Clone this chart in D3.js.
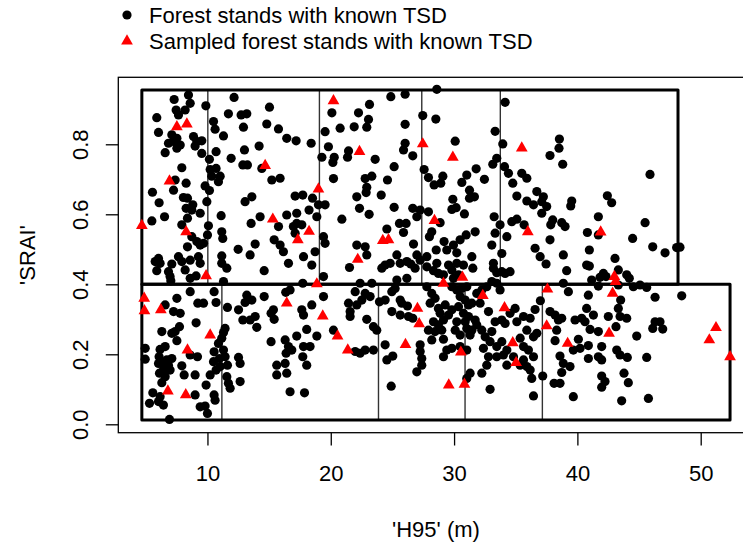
<!DOCTYPE html>
<html><head><meta charset="utf-8">
<script src="https://cdn.jsdelivr.net/npm/d3@7"></script>
<style>body{margin:0;background:#fff}svg{display:block}text{font-family:"Liberation Sans",Arial,sans-serif;font-size:22px;fill:#000}</style>
</head><body><svg id="c" width="743" height="545"></svg>
<script>
// H95 (m), SRAI
const forestStands = [
[8.46,0.941],[8.6,0.917],[7.3,0.928],[9.87,0.910],[12.16,0.934],[7.46,0.898],[8.19,0.898],[7.65,0.884],[5.89,0.876],[6.03,0.834],[10.49,0.865],[10.62,0.843],[11.3,0.824],[11.7,0.887],[12.73,0.884],[13.19,0.887],[12.92,0.849],[15.03,0.906],[14.81,0.858],[15.76,0.844],[16.43,0.817],[17.19,0.810],[18.41,0.803],[19.54,0.836],[19.81,0.793],[7.11,0.827],[7.52,0.817],[7.25,0.808],[7.79,0.798],[7.52,0.789],[6.84,0.803],[8.87,0.822],[9.14,0.808],[9.54,0.810],[9.0,0.795],[6.57,0.776],[9.54,0.774],[10.16,0.757],[10.7,0.779],[11.92,0.760],[13.0,0.784],[14.19,0.795],[7.92,0.733],[10.22,0.728],[10.7,0.731],[11.03,0.709],[10.89,0.693],[10.35,0.709],[12.87,0.741],[13.24,0.741],[14.41,0.731],[15.22,0.698],[15.89,0.703],[7.38,0.698],[8.27,0.689],[7.25,0.669],[5.54,0.663],[6.08,0.633],[8.05,0.648],[8.38,0.646],[8.81,0.627],[8.27,0.617],[8.73,0.612],[9.41,0.603],[9.95,0.636],[9.81,0.681],[10.16,0.668],[13.05,0.636],[13.6,0.650],[11.11,0.596],[5.49,0.581],[6.52,0.593],[8.38,0.589],[7.92,0.570],[10.08,0.567],[10.0,0.541],[11.16,0.550],[11.24,0.531],[8.73,0.536],[9.14,0.522],[9.41,0.512],[9.68,0.517],[8.38,0.507],[12.49,0.500],[13.46,0.484],[13.87,0.515],[14.27,0.593],[13.54,0.574],[16.43,0.598],[17.24,0.603],[17.11,0.652],[17.73,0.655],[18.52,0.646],[19.0,0.627],[19.54,0.627],[18.24,0.612],[18.87,0.593],[17.24,0.574],[16.97,0.565],[17.65,0.570],[17.11,0.546],[15.76,0.565],[15.41,0.527],[15.89,0.512],[16.16,0.493],[19.41,0.536],[19.54,0.517],[18.73,0.493],[17.79,0.479],[6.03,0.474],[7.65,0.479],[9.27,0.479],[11.16,0.481],
[28.6,0.957],[24.87,0.936],[26.03,0.943],[23.14,0.914],[22.25,0.890],[23.06,0.871],[22.92,0.849],[20.09,0.890],[20.76,0.846],[21.9,0.850],[26.03,0.857],[27.46,0.882],[28.52,0.872],[34.14,0.920],[33.33,0.837],[33.95,0.801],[30.09,0.809],[26.03,0.803],[25.9,0.784],[26.65,0.767],[21.44,0.781],[21.36,0.763],[20.28,0.763],[20.17,0.748],[19.28,0.763],[23.6,0.757],[25.14,0.736],[20.22,0.702],[22.79,0.702],[23.33,0.709],[22.92,0.677],[22.87,0.662],[24.6,0.698],[27.57,0.728],[27.92,0.705],[28.38,0.684],[28.92,0.689],[29.09,0.709],[31.79,0.730],[31.03,0.712],[30.63,0.691],[32.46,0.700],[33.14,0.743],[33.46,0.760],[34.09,0.736],[34.41,0.717],[34.76,0.689],[35.49,0.717],[35.9,0.703],[22.11,0.650],[24.09,0.655],[22.33,0.617],[23.11,0.600],[25.14,0.620],[29.9,0.643],[30.17,0.619],[30.84,0.601],[29.82,0.614],[31.25,0.669],[31.65,0.650],[31.25,0.646],[35.09,0.652],[35.9,0.638],[36.71,0.665],[36.44,0.627],[20.9,0.586],[26.65,0.617],[27.25,0.612],[27.92,0.607],[26.98,0.593],[25.57,0.574],[26.11,0.574],[25.9,0.548],[24.55,0.558],[33.25,0.593],[33.73,0.570],[33.33,0.546],[34.68,0.579],[35.09,0.586],[35.68,0.570],[28.87,0.576],[28.19,0.550],[28.0,0.536],[28.55,0.498],[29.19,0.522],[29.95,0.512],[30.49,0.527],[30.98,0.541],[31.71,0.550],[29.41,0.498],[30.22,0.490],[33.06,0.512],[33.87,0.488],[36.57,0.503],[36.98,0.479],[22.11,0.512],[22.79,0.507],[22.92,0.484],[26.71,0.515],[34.28,0.536],[25.36,0.484],[26.98,0.484],[27.79,0.479],[31.44,0.479],
[38.54,0.815],[38.51,0.789],[37.78,0.768],[38.81,0.743],[45.89,0.714],[37.24,0.650],[37.11,0.636],[37.51,0.622],[37.11,0.603],[39.54,0.638],[39.46,0.624],[42.43,0.653],[42.78,0.633],[41.7,0.593],[38.0,0.584],[37.84,0.570],[38.73,0.576],[39.0,0.565],[40.81,0.548],[41.7,0.541],[45.49,0.576],[44.48,0.531],[37.78,0.527],[40.97,0.498],[46.11,0.507],[47.11,0.490],[48.05,0.505],[48.32,0.506],[38.86,0.484],[43.05,0.474],
[5.76,0.465],[6.16,0.460],[7.11,0.458],[6.84,0.436],[5.89,0.439],[7.92,0.465],[8.19,0.441],[8.6,0.469],[9.41,0.460],[6.97,0.422],[7.03,0.410],[8.6,0.417],[9.08,0.424],[11.16,0.460],[11.57,0.446],[11.3,0.408],[14.6,0.439],[16.57,0.460],[18.46,0.455],[17.73,0.403],[8.6,0.379],[10.54,0.379],[7.52,0.360],[9.22,0.346],[9.68,0.346],[10.7,0.348],[6.57,0.341],[7.25,0.322],[7.79,0.317],[11.62,0.334],[9.08,0.290],[13.19,0.369],[13.6,0.355],[13.05,0.348],[14.6,0.365],[12.52,0.327],[12.87,0.298],[13.46,0.298],[13.87,0.308],[14.0,0.277],[15.35,0.327],[15.16,0.317],[15.41,0.300],[16.35,0.377],[16.7,0.384],[17.65,0.327],[17.79,0.312],[18.46,0.341],[7.73,0.279],[7.38,0.265],[7.11,0.260],[6.3,0.265],[11.43,0.274],[11.3,0.262],[11.16,0.246],[10.89,0.231],[7.52,0.239],[6.57,0.222],[6.16,0.214],[4.95,0.217],[4.95,0.186],[6.08,0.193],[6.3,0.174],[6.7,0.184],[7.11,0.188],[6.84,0.169],[6.97,0.155],[6.43,0.155],[6.03,0.174],[6.11,0.146],[6.57,0.136],[6.3,0.119],[7.92,0.167],[8.11,0.141],[9.0,0.141],[9.19,0.193],[8.6,0.198],[10.54,0.207],[10.49,0.179],[10.97,0.188],[11.43,0.193],[11.3,0.212],[11.62,0.169],[11.03,0.165],[10.7,0.155],[10.22,0.141],[9.89,0.112],[12.52,0.191],[12.65,0.174],[11.57,0.136],[11.7,0.117],[11.84,0.103],[12.65,0.122],[15.16,0.236],[16.3,0.241],[16.57,0.222],[17.24,0.252],[16.84,0.212],[16.38,0.203],[16.3,0.174],[18.05,0.271],[17.79,0.222],[18.32,0.222],[18.05,0.169],[17.73,0.193],[18.87,0.252],[15.62,0.169],[15.62,0.141],[16.43,0.146],[16.7,0.093],[17.87,0.090],[5.57,0.090],[5.3,0.060],[6.03,0.065],[6.43,0.055],[6.16,0.079],[9.0,0.084],[9.41,0.050],[9.81,0.052],[10.0,0.031],[10.54,0.084],[10.62,0.069],[6.92,0.014],
[21.52,0.448],[24.41,0.455],[24.14,0.446],[24.82,0.460],[25.63,0.460],[26.17,0.465],[26.49,0.458],[26.84,0.446],[27.79,0.450],[27.25,0.469],[28.6,0.460],[28.73,0.431],[29.14,0.427],[28.33,0.439],[29.55,0.455],[29.82,0.441],[29.95,0.417],[30.36,0.427],[30.22,0.460],[30.76,0.455],[31.52,0.446],[33.19,0.446],[33.46,0.433],[33.87,0.436],[34.14,0.431],[34.54,0.436],[33.19,0.460],[19.41,0.422],[25.36,0.412],[26.17,0.417],[22.38,0.403],[23.33,0.403],[21.98,0.379],[22.79,0.374],[23.19,0.365],[22.52,0.355],[21.44,0.346],[22.11,0.341],[21.57,0.322],[21.57,0.308],[19.41,0.365],[23.95,0.350],[24.41,0.355],[24.95,0.379],[25.22,0.388],[25.63,0.355],[25.76,0.346],[26.22,0.338],[24.95,0.322],[25.63,0.312],[26.3,0.308],[26.65,0.303],[27.79,0.393],[28.19,0.374],[28.46,0.360],[28.06,0.346],[28.73,0.331],[28.87,0.317],[29.28,0.341],[29.55,0.312],[29.82,0.327],[28.33,0.293],[28.73,0.284],[29.14,0.298],[27.92,0.269],[28.46,0.265],[29.0,0.269],[28.19,0.241],[29.14,0.243],[29.82,0.393],[30.22,0.384],[30.63,0.388],[31.03,0.393],[30.49,0.365],[30.9,0.355],[31.17,0.341],[31.44,0.346],[30.36,0.336],[30.76,0.317],[31.17,0.308],[30.9,0.293],[30.22,0.293],[30.09,0.269],[31.03,0.274],[31.44,0.269],[30.49,0.255],[31.3,0.255],[31.71,0.298],[31.84,0.284],[31.84,0.374],[32.25,0.384],[32.65,0.393],[33.06,0.408],[33.46,0.403],[33.73,0.384],[32.11,0.346],[32.79,0.322],[33.33,0.293],[33.87,0.298],[34.14,0.288],[32.25,0.269],[32.52,0.250],[33.06,0.265],[32.92,0.236],[32.38,0.217],[33.46,0.222],[33.87,0.236],[34.28,0.212],[34.0,0.198],[33.46,0.193],[32.79,0.193],[32.65,0.169],[34.54,0.317],[34.95,0.331],[35.09,0.293],[35.63,0.308],[36.17,0.303],[35.9,0.269],[36.44,0.250],[36.71,0.260],[35.36,0.246],[35.63,0.222],[36.03,0.212],[36.44,0.193],[35.63,0.184],[35.36,0.169],[35.9,0.165],[36.17,0.155],[36.3,0.131],[34.28,0.169],[34.82,0.193],[36.44,0.081],[32.92,0.100],[32.25,0.146],[31.3,0.146],[31.03,0.131],[29.41,0.212],[29.14,0.193],[29.82,0.217],[30.49,0.222],[31.03,0.212],[27.25,0.227],[27.25,0.208],[27.38,0.188],[27.38,0.169],[26.98,0.150],[24.41,0.227],[24.55,0.184],[25.03,0.195],[24.9,0.109],[22.38,0.203],[22.79,0.212],[23.46,0.212],[21.98,0.208],[20.22,0.269],[23.46,0.279],[23.73,0.269],[22.92,0.300],
[37.46,0.458],[39.13,0.439],[40.75,0.455],[40.97,0.452],[42.11,0.431],[42.32,0.422],[41.84,0.420],[43.32,0.441],[44.0,0.427],[44.21,0.417],[41.16,0.412],[38.86,0.403],[39.27,0.379],[40.89,0.369],[41.7,0.395],[43.32,0.398],[44.54,0.393],[45.08,0.398],[45.62,0.391],[46.3,0.363],[48.46,0.367],[43.51,0.355],[37.0,0.353],[36.57,0.328],[37.78,0.322],[38.19,0.312],[38.73,0.303],[38.46,0.298],[39.81,0.298],[40.35,0.303],[40.62,0.293],[40.75,0.331],[41.3,0.312],[42.51,0.308],[43.32,0.331],[43.46,0.308],[44.0,0.303],[43.13,0.279],[41.03,0.271],[41.7,0.265],[38.32,0.269],[46.3,0.293],[46.7,0.293],[46.11,0.274],[46.92,0.272],[44.81,0.252],[38.19,0.239],[40.08,0.243],[40.22,0.217],[39.67,0.212],[40.89,0.225],[41.97,0.222],[38.59,0.195],[38.86,0.174],[39.4,0.165],[38.73,0.148],[40.89,0.188],[41.7,0.193],[41.97,0.184],[43.19,0.212],[43.46,0.198],[44.05,0.191],[45.62,0.191],[37.19,0.138],[38.11,0.117],[38.59,0.117],[41.97,0.138],[42.24,0.122],[41.97,0.106],[43.78,0.146],[44.13,0.119],[39.67,0.079],[43.59,0.067],[45.76,0.074]
];
const sampledStands = [
[7.52,0.850],[8.33,0.858],[14.68,0.739],[6.92,0.695],[19.0,0.672],[4.68,0.568],[8.27,0.550],[15.3,0.586],[17.33,0.527],[18.24,0.551],[20.22,0.924],[22.33,0.779],[27.46,0.801],[29.9,0.763],[35.49,0.789],[28.41,0.582],[24.22,0.525],[24.68,0.527],[35.98,0.550],[22.19,0.471],[41.89,0.549],[9.89,0.424],[18.87,0.401],[4.87,0.36],[4.89,0.324],[6.22,0.327],[10.22,0.255],[8.38,0.212],[6.79,0.095],[8.24,0.084],[16.43,0.346],[19.35,0.309],[20.55,0.252],[21.38,0.212],[27.03,0.331],[27.17,0.287],[26.06,0.228],[29.14,0.403],[30.68,0.420],[32.33,0.368],[34.09,0.333],[34.76,0.233],[35.03,0.176],[30.55,0.206],[29.57,0.112],[30.84,0.114],[37.57,0.386],[43.0,0.422],[43.1,0.408],[42.86,0.374],[37.51,0.281],[39.21,0.231],[42.57,0.260],[51.24,0.276],[50.7,0.241],[52.38,0.193]
];
// strata: [xmin, xmax, ymin, ymax]
const upperStratum = [4.68, 48.16, 0.40, 0.955];
const upperBreaks = [10.03, 19.08, 27.38, 33.75];
const lowerStratum = [4.68, 52.38, 0.0123, 0.40];
const lowerBreaks = [11.17, 23.87, 30.89, 37.16];
const xTicks = [10, 20, 30, 40, 50];
const yTicks = [0, 0.2, 0.4, 0.6, 0.8];
const legendLabels = ["Forest stands with known TSD", "Sampled forest stands with known TSD"];
const xTitle = "'H95' (m)";
const yTitle = "'SRAI'";

const svg = d3.select("#c");
const L = 118.3, T = 77.3, R = 753.6, B = 432.7;
const x = d3.scaleLinear().domain([2.77, 54.29]).range([L, R]);
const y = d3.scaleLinear().domain([-0.024, 0.9914]).range([B, T]);

function drawStratum(s, breaks) {
  const g = svg.append("g");
  g.selectAll("line.b").data(breaks).join("line")
    .attr("x1", d => x(d)).attr("x2", d => x(d))
    .attr("y1", y(s[2])).attr("y2", y(s[3]))
    .attr("stroke", "#333").attr("stroke-width", 1.4);
  g.append("rect")
    .attr("x", x(s[0])).attr("y", y(s[3]))
    .attr("width", x(s[1]) - x(s[0])).attr("height", y(s[2]) - y(s[3]))
    .attr("fill", "none").attr("stroke", "#000").attr("stroke-width", 3)
    .attr("stroke-linejoin", "round");
}
drawStratum(upperStratum, upperBreaks);
drawStratum(lowerStratum, lowerBreaks);

svg.append("g").selectAll("circle").data(forestStands).join("circle")
  .attr("cx", d => x(d[0])).attr("cy", d => y(d[1])).attr("r", 4.6).attr("fill", "#000");
const tri = d3.symbol().type(d3.symbolTriangle).size(60);
svg.append("g").selectAll("path").data(sampledStands).join("path")
  .attr("d", tri).attr("transform", d => `translate(${x(d[0])},${y(d[1])})`).attr("fill", "#ff0000");

svg.append("rect").attr("x", L).attr("y", T).attr("width", R - L).attr("height", B - T)
  .attr("fill", "none").attr("stroke", "#000").attr("stroke-width", 1.3);

const xa = svg.append("g").attr("transform", `translate(0,${B})`)
  .call(d3.axisBottom(x).tickValues(xTicks).tickSize(12.8).tickPadding(20).tickFormat(d3.format("d")));
xa.select(".domain").remove();
xa.selectAll("line").attr("stroke", "#000").attr("stroke-width", 1.3);
xa.selectAll("text").attr("fill", "#000");
xa.attr("font-family", null).attr("font-size", null);

const ya = svg.append("g").attr("transform", `translate(${L},0)`)
  .call(d3.axisLeft(y).tickValues(yTicks).tickSize(12.5).tickFormat(d3.format(".1f")));
ya.select(".domain").remove();
ya.selectAll("line").attr("stroke", "#000").attr("stroke-width", 1.3);
ya.selectAll("text").attr("x", 0).attr("y", -29.9).attr("dy", null)
  .attr("text-anchor", "middle").attr("transform", "rotate(-90)").attr("fill", "#000");
ya.attr("font-family", null).attr("font-size", null).attr("text-anchor", null);

svg.append("text").attr("x", (L + R) / 2).attr("y", 536.5).attr("text-anchor", "middle").text(xTitle);
svg.append("text").attr("transform", `translate(34.6,${(T + B) / 2}) rotate(-90)`).attr("text-anchor", "middle").text(yTitle);

const lg = svg.append("g");
lg.append("circle").attr("cx", 127).attr("cy", 15).attr("r", 4.6).attr("fill", "#000");
lg.append("path").attr("d", tri).attr("transform", "translate(127,41)").attr("fill", "#ff0000");
lg.selectAll("text").data(legendLabels).join("text")
  .attr("x", 149).attr("y", (d, i) => 23 + i * 26).text(d => d);
</script></body></html>
